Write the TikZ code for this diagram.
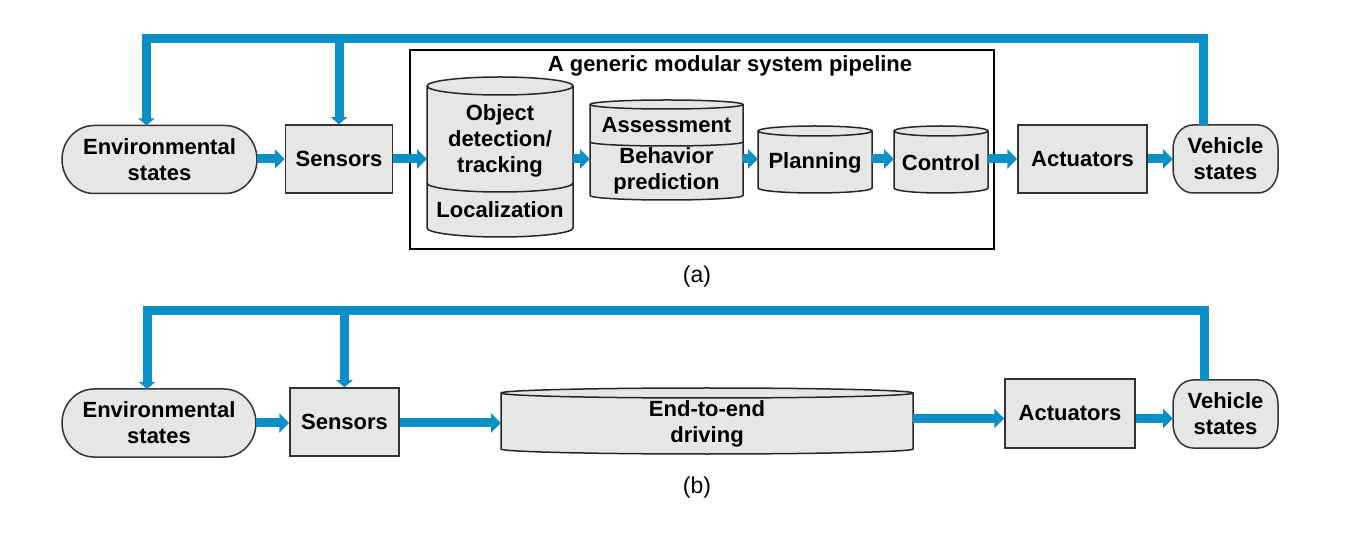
\documentclass[tikz,border=0pt]{standalone}
\usepackage{fontspec}
\setmainfont{Liberation Sans}
\usetikzlibrary{arrows.meta,backgrounds,calc}
\definecolor{blu}{HTML}{0A8FC6}
\definecolor{gfill}{HTML}{E6E6E6}
\definecolor{gline}{HTML}{333333}
% soft rounded shape drawn behind a named node: name, rx, ry
\newcommand\softshape[3]{%
 \begin{scope}[on background layer]
 \draw[shp] ([xshift=#2]#1.north west) -- ([xshift=-#2]#1.north east)
   arc[start angle=90,end angle=0,x radius=#2,y radius=#3]
   -- ([yshift=#3]#1.south east)
   arc[start angle=0,end angle=-90,x radius=#2,y radius=#3]
   -- ([xshift=#2]#1.south west)
   arc[start angle=270,end angle=180,x radius=#2,y radius=#3]
   -- ([yshift=-#3]#1.north west)
   arc[start angle=180,end angle=90,x radius=#2,y radius=#3] -- cycle;
 \end{scope}}
% cylinder: x1 x2 ytop ybot ry (pixels, y downward)
\newcommand\cylshape[5]{%
 \pgfmathsetmacro\rxx{(#2-#1)/2}%
 \draw[cylsty] (#1,-#3) -- (#1,-#4)
   arc[start angle=180,end angle=360,x radius=\rxx,y radius=#5]
   -- (#2,-#3)
   arc[start angle=0,end angle=180,x radius=\rxx,y radius=#5] -- cycle;
 \draw[cylsty,fill=none] (#1,-#3) arc[start angle=180,end angle=360,x radius=\rxx,y radius=#5];}
\newcommand\cyldiv[4]{% x1 x2 y ry
 \pgfmathsetmacro\rxx{(#2-#1)/2}%
 \draw[cylsty,fill=none] (#1,-#3) arc[start angle=180,end angle=360,x radius=\rxx,y radius=#4];}

\begin{document}
\begin{tikzpicture}[x=0.5pt,y=0.5pt,
 lbl/.style={font=\fontsize{11}{13}\selectfont\bfseries, align=center, inner sep=0pt},
 rbox/.style={lbl, draw=gline, fill=gfill, line width=0.75pt, inner sep=0pt},
 hid/.style={lbl, inner sep=0pt, outer sep=0pt},
 shp/.style={draw=gline, fill=gfill, line width=0.75pt},
 cylsty/.style={draw=black!85, fill=gfill, line width=0.75pt},
 conn/.style={draw=blu, line width=4.5pt, -{Triangle[width=9.5pt,length=5pt]}},
 fb/.style={draw=blu, line width=4.5pt, line join=miter, -{Triangle[width=8pt,length=3.5pt]}},
 captxt/.style={font=\fontsize{11.5}{13}\selectfont, inner sep=0pt}
]
\useasboundingbox (0,0) rectangle (1347,-544);

% ---------------- panel (a) ----------------
\node[hid, minimum width=97.5pt, minimum height=34pt] (envA) at (159.5,-159.5) {Environmental\\states};
\softshape{envA}{16pt}{17pt}
\node[rbox, minimum width=53.5pt, minimum height=34pt] (senA) at (339,-159) {Sensors};

\node[draw=black, line width=1pt, minimum width=292pt, minimum height=99.5pt, inner sep=0pt] (pipe) at (702,-149.5) {};
\node[lbl] (title) at (730,-66) {A generic modular system pipeline};

\cylshape{427}{573}{86}{228}{9}
\cyldiv{427}{573}{183}{9}
\node[hid, minimum width=73pt, minimum height=80pt] (obj) at (500,-157) {};
\node[lbl] (objT) at (500,-141) {Object\\detection/\\tracking};
\node[lbl] (locT) at (500,-210) {Localization};

\cylshape{590}{743}{104.5}{195.5}{4.5}
\cyldiv{590}{743}{142}{4}
\node[hid, minimum width=76.5pt, minimum height=50pt] (asm) at (666.5,-150) {};
\node[lbl] (asmT) at (666.5,-125) {Assessment};
\node[lbl] (behT) at (666.5,-170.5) {Behavior\\prediction};

\cylshape{758}{872}{131}{188}{5}
\node[hid, minimum width=57pt, minimum height=33.5pt] (plan) at (815,-159.5) {};
\node[lbl] (planT) at (815,-163) {Planning};

\cylshape{894}{988}{131}{188}{5}
\node[hid, minimum width=47pt, minimum height=33.5pt] (ctrl) at (941,-159.5) {};
\node[lbl] (ctrlT) at (941,-163) {Control};

\node[rbox, minimum width=64.5pt, minimum height=34pt] (actA) at (1082.5,-159) {Actuators};
\node[hid, minimum width=52.5pt, minimum height=34pt] (vehA) at (1225.5,-159) {Vehicle\\states};
\softshape{vehA}{10pt}{12pt}

\coordinate (ya) at (0,-159);
\draw[conn] (envA.east |- ya) -- (senA.west |- ya);
\draw[conn] (senA.east |- ya) -- (obj.west |- ya);
\draw[conn] (obj.east |- ya) -- (asm.west |- ya);
\draw[conn] (asm.east |- ya) -- (plan.west |- ya);
\draw[conn] (plan.east |- ya) -- (ctrl.west |- ya);
\draw[conn] (ctrl.east |- ya) -- (actA.west |- ya);
\draw[conn] (actA.east |- ya) -- (vehA.west |- ya);

\coordinate (ta) at (0,-38.5);
\coordinate (envAfb) at ($(envA.north)+(-13,0)$);
\coordinate (vehAfb) at ($(vehA.north)+(-22.5,0)$);
\draw[fb] (vehAfb) |- (envAfb |- ta) -- (envAfb);
\draw[fb] (senA.north |- ta) -- (senA.north);

\node[captxt] (capA) at (697,-277) {(a)};

% ---------------- panel (b) ----------------
\node[hid, minimum width=97pt, minimum height=34pt] (envB) at (159,-423) {Environmental\\states};
\softshape{envB}{16pt}{17pt}
\node[rbox, minimum width=54.5pt, minimum height=34pt] (senB) at (344.5,-422) {Sensors};

\cylshape{501}{913}{393}{449}{5}
\node[hid, minimum width=206pt, minimum height=33pt] (e2e) at (707,-421) {};
\node[lbl] (e2eT) at (707,-423.5) {End-to-end\\driving};

\node[rbox, minimum width=65pt, minimum height=34.5pt] (actB) at (1070,-413.5) {Actuators};
\node[hid, minimum width=52.5pt, minimum height=34pt] (vehB) at (1225.5,-414) {Vehicle\\states};
\softshape{vehB}{10pt}{12pt}

\coordinate (yb1) at (0,-423);
\coordinate (yb2) at (0,-418.5);
\draw[conn] (envB.east |- yb1) -- (senB.west |- yb1);
\draw[conn] (senB.east |- yb1) -- (e2e.west |- yb1);
\draw[conn] (e2e.east |- yb2) -- (actB.west |- yb2);
\draw[conn] (actB.east |- yb2) -- (vehB.west |- yb2);

\coordinate (tb) at (0,-310.5);
\coordinate (envBfb) at ($(envB.north)+(-12,0)$);
\coordinate (vehBfb) at ($(vehB.north)+(-21.5,0)$);
\draw[fb] (vehBfb) |- (envBfb |- tb) -- (envBfb);
\draw[fb] (senB.north |- tb) -- (senB.north);

\node[captxt] (capB) at (697,-488) {(b)};
\end{tikzpicture}
\end{document}
